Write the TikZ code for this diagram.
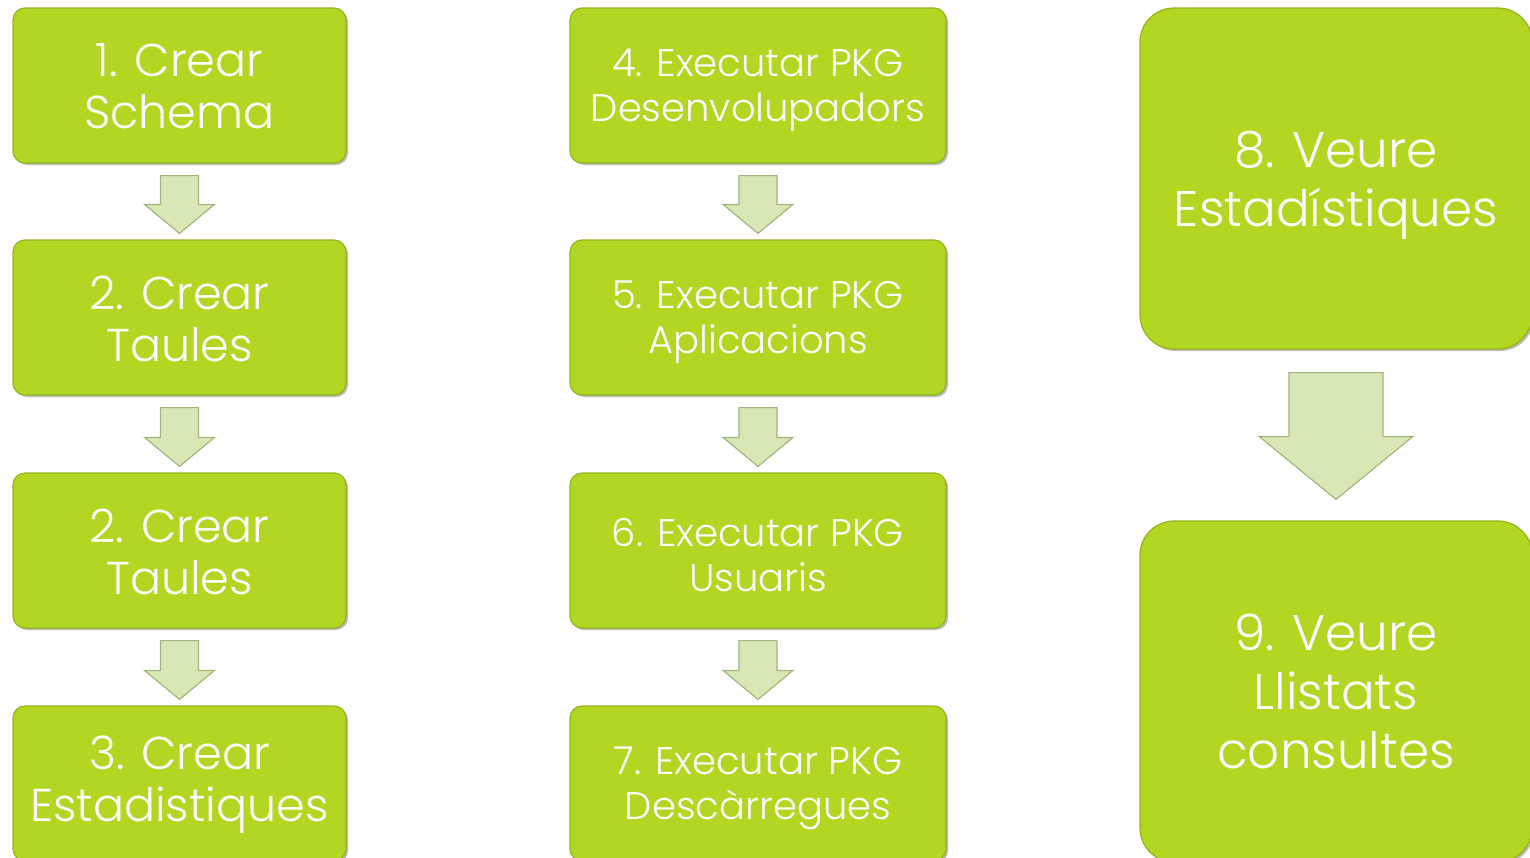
\documentclass[tikz,border=0pt]{standalone}
\usepackage{fontspec}
\setmainfont{Poppins Light}
\usetikzlibrary{calc,shadows}
\definecolor{boxfill}{HTML}{B2D723}
\definecolor{boxline}{HTML}{95B41A}
\definecolor{arrfill}{HTML}{D8E8B4}
\definecolor{arrline}{HTML}{A3B57E}
\tikzset{
  stepbox/.style={rounded corners=12pt, fill=boxfill, draw=boxline, line width=1.2pt,
    drop shadow={shadow xshift=2pt, shadow yshift=-2pt, fill=black!60, opacity=0.45},
    inner sep=0pt},
  steptext/.style={text=white, align=center, inner sep=0pt},
  smallbox/.style={stepbox, minimum width=333pt, minimum height=155pt},
  midbox/.style={stepbox, minimum width=376pt, minimum height=155pt},
  bigbox/.style={stepbox, rounded corners=34pt, minimum width=392pt, minimum height=341pt},
  smalltext/.style={steptext, font=\fontsize{46}{52}\selectfont},
  midtext/.style={steptext, font=\fontsize{38.5}{45}\selectfont},
  bigtext/.style={steptext, font=\fontsize{50}{59}\selectfont},
  blockarr/.style={fill=arrfill, draw=arrline, line width=1.2pt, line join=miter}
}
% #1 upper node, #2 lower node, #3 top gap, #4 bottom gap, #5 half shaft, #6 half head, #7 head length
\newcommand\blockarrow[7]{%
  \draw[blockarr] let \p1=($(#1.south)+(0,#3)$), \p2=($(#2.north)+(0,-#4)$) in
    (\x1-#5pt,\y1) -- (\x1+#5pt,\y1) -- (\x1+#5pt,\y2+#7pt) -- (\x1+#6pt,\y2+#7pt)
    -- (\x1,\y2) -- (\x1-#6pt,\y2+#7pt) -- (\x1-#5pt,\y2+#7pt) -- cycle;}
\begin{document}
\begin{tikzpicture}[x=1pt,y=-1pt]
\useasboundingbox (0,0) rectangle (1530,857);
% column 1
\node[smallbox] (b1) at (179.5,85.5) {};
\node[smallbox] (b2) at (179.5,317.5) {};
\node[smallbox] (b3) at (179.5,550.5) {};
\node[smallbox] (b4) at (179.5,783.5) {};
\node[smalltext] (t1) at ($(b1.center)+(0,1)$) {1. Crear\\Schema};
\node[smalltext] (t2) at ($(b2.center)+(0,1)$) {2. Crear\\Taules};
\node[smalltext] (t3) at ($(b3.center)+(0,1)$) {2. Crear\\Taules};
\node[smalltext] (t4) at ($(b4.center)+(0,1)$) {3. Crear\\Estadistiques};
% column 2
\node[midbox] (c4) at (758,85.5) {};
\node[midbox] (c5) at (758,317.5) {};
\node[midbox] (c6) at (758,550.5) {};
\node[midbox] (c7) at (758,783.5) {};
\node[midtext] (u4) at ($(c4.center)+(0,5)$) {4. Executar PKG\\Desenvolupadors};
\node[midtext] (u5) at ($(c5.center)+(0,5)$) {5. Executar PKG\\Aplicacions};
\node[midtext] (u6) at ($(c6.center)+(0,5)$) {6. Executar PKG\\Usuaris};
\node[midtext] (u7) at ($(c7.center)+(0,5)$) {7. Executar PKG\\Descàrregues};
% column 3
\node[bigbox] (d8) at (1336,178.5) {};
\node[bigbox] (d9) at (1336,691.5) {};
\node[bigtext] (v8) at ($(d8.center)+(0,7)$) {8. Veure\\Estadístiques};
\node[bigtext] (v9) at ($(d9.center)+(0,0)$) {9. Veure\\Llistats\\consultes};
% arrows
\blockarrow{b1}{b2}{12}{6}{19}{35}{29}
\blockarrow{b2}{b3}{12}{6}{19}{35}{29}
\blockarrow{b3}{b4}{12}{6}{19}{35}{29}
\blockarrow{c4}{c5}{12}{6}{19}{35}{29}
\blockarrow{c5}{c6}{12}{6}{19}{35}{29}
\blockarrow{c6}{c7}{12}{6}{19}{35}{29}
\blockarrow{d8}{d9}{23}{21}{47}{77}{63}
\end{tikzpicture}
\end{document}
